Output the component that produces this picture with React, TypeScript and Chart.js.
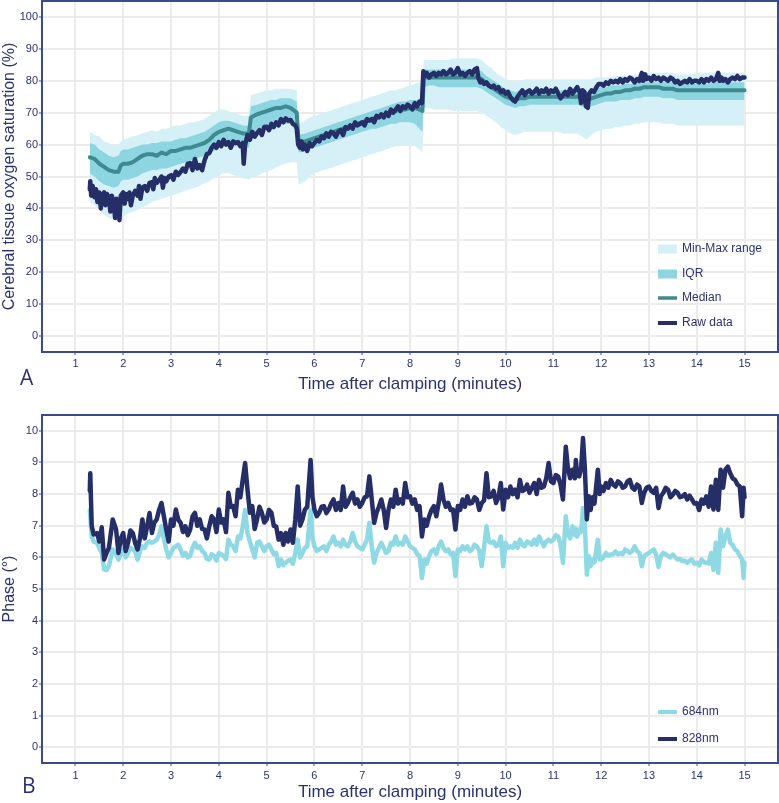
import React, { useEffect, useRef } from 'react';
import { Chart, registerables } from 'chart.js';

Chart.register(...registerables);

const FONT = "'Liberation Sans', Arial, Helvetica, sans-serif";
const TEXT = '#2a3370';
const NAVY = '#252e67';
const TEAL = '#3f8a91';
const IQR_FILL = '#8dd5e0';
const RANGE_FILL = '#d5f0f6';
const CYAN = '#8fd9e5';
const FRAME = '#3b4a8f';
const GRID = '#ebebeb';
const CLEAR = 'rgba(0,0,0,0)';

// ---------- Tick labels ----------
const xTicks = [1, 2, 3, 4, 5, 6, 7, 8, 9, 10, 11, 12, 13, 14, 15];
const satTicks = [0, 10, 20, 30, 40, 50, 60, 70, 80, 90, 100];
const phaseTicks = [0, 1, 2, 3, 4, 5, 6, 7, 8, 9, 10];

// ---------- Panel A: group statistics (time in minutes) ----------
const bandTimes = [
  1.3, 1.4, 1.5, 1.6, 1.7, 1.8, 1.9, 1.95, 2.0, 2.1,
  2.2, 2.3, 2.4, 2.5, 2.6, 2.7, 2.8, 2.9, 3.0, 3.1,
  3.2, 3.3, 3.4, 3.5, 3.6, 3.7, 3.8, 3.9, 4.0, 4.1,
  4.2, 4.3, 4.4, 4.5, 4.63, 4.67, 4.8, 4.9, 5.0, 5.1,
  5.2, 5.3, 5.4, 5.5, 5.63, 5.67, 5.8, 5.9, 6.0, 6.1,
  6.2, 6.3, 6.4, 6.5, 6.6, 6.7, 6.8, 6.9, 7.0, 7.1,
  7.2, 7.3, 7.4, 7.5, 7.6, 7.7, 7.8, 7.9, 8.0, 8.1,
  8.2, 8.26, 8.29, 8.4, 8.5, 8.6, 8.7, 8.8, 8.9, 9.0,
  9.1, 9.2, 9.3, 9.4, 9.5, 9.6, 9.7, 9.8, 9.9, 10.0,
  10.1, 10.2, 10.3, 10.4, 10.5, 10.6, 10.7, 10.8, 10.9, 11.0,
  11.1, 11.2, 11.3, 11.4, 11.5, 11.6, 11.7, 11.8, 11.9, 12.0,
  12.1, 12.2, 12.3, 12.4, 12.5, 12.6, 12.7, 12.8, 12.9, 13.0,
  13.1, 13.2, 13.3, 13.4, 13.5, 13.6, 13.7, 13.8, 13.9, 14.0,
  14.1, 14.2, 14.3, 14.4, 14.5, 14.6, 14.7, 14.8, 14.9, 15.0,
];
const satMin = [
  42, 41, 39.5, 38, 37, 36.5, 36, 37, 37.5, 38.5,
  39, 39.5, 40.5, 41, 42, 42.5, 43, 43.5, 44, 44.5,
  45, 45.5, 46, 46.5, 47, 48, 48.5, 49.5, 50.5, 51,
  51, 50.5, 50, 49.5, 49, 49.5, 50, 51, 51.5, 52,
  53, 53.5, 54, 54.5, 54.5, 47.5, 48.5, 50, 51, 51.5,
  52, 52.5, 53, 53.5, 54, 54.5, 55, 55.5, 56, 56.5,
  57, 57.5, 58, 58.5, 59, 59.5, 59.5, 60, 60, 59.5,
  58.5, 57.5, 71.5, 71.5, 71, 71, 71, 71, 70.5, 70.5,
  70.5, 70.5, 70.5, 70.5, 70, 69, 68, 67, 65.5, 64.5,
  63.5, 63, 63.5, 64, 64, 64, 64, 64, 64, 64,
  64, 63.5, 63.5, 63.5, 63.5, 62.5, 61.5, 63, 64, 64.5,
  65, 65, 65.5, 65.5, 66, 66, 66.5, 66.5, 67, 67,
  67, 67, 66.5, 66.5, 66.5, 66, 66, 66, 66, 66,
  66, 66, 66, 66, 66, 66, 66, 66, 66, 66,
];
const satQ1 = [
  51, 50, 48.5, 47.5, 47, 46.5, 47, 48.5, 49, 49,
  49.5, 50, 51, 51.5, 52, 52, 52.5, 52.5, 53, 53.5,
  54, 54.5, 55, 55.5, 56, 56.5, 57, 58, 59, 59.5,
  60, 59.5, 59.5, 59, 59, 63, 64, 64.5, 65, 65.5,
  66, 66.5, 66.5, 66.5, 66, 57.5, 58, 58.5, 59, 59.5,
  60, 60.5, 61, 61.5, 62, 62.5, 63, 63.5, 64, 64.5,
  65, 65, 65.5, 66, 66.5, 66.5, 67, 67, 67, 66.5,
  65, 64, 78, 78.5, 78.5, 78, 78, 78, 78, 78,
  78, 78, 78, 78, 77.5, 76.5, 75.5, 74.5, 73.5, 72.5,
  72, 71.5, 72, 72, 72.5, 72.5, 72.5, 72.5, 72.5, 72.5,
  72.5, 72.5, 72.5, 72.5, 72.5, 72, 71, 72, 72.5, 73,
  73.5, 73.5, 73.5, 74, 74, 74, 74.5, 74.5, 75, 75,
  75, 75, 74.5, 74.5, 74.5, 74, 74, 74, 74, 74,
  74, 74, 74, 74, 74, 74, 74, 74, 74, 74,
];
const satMedian = [
  56, 55.5, 54, 53, 52, 51.5, 51.5, 53.5, 54, 54,
  54.5, 55.5, 56.5, 57, 57, 56.5, 57.5, 57, 58, 58,
  58.5, 59, 59, 59.5, 60, 60.5, 61.5, 63, 64, 64.5,
  65, 64.5, 64, 63.5, 63.5, 68.5, 69.5, 70, 70.5, 71,
  71.5, 71.5, 72, 71.5, 70, 60.5, 61, 61.5, 62, 62.5,
  63, 63.5, 64, 64.5, 65, 65.5, 66, 66.5, 67, 67.5,
  68, 68.5, 69, 69.5, 70, 70.5, 71, 71, 71.5, 71.5,
  71, 70.5, 81, 81, 81, 81, 81, 81, 81, 81,
  81, 81, 81, 81, 80.5, 79, 78, 77, 76, 75,
  74.5, 74, 74.5, 74.5, 75, 75, 75, 75, 75, 75,
  75, 75, 75, 75, 75, 74.5, 74, 74.5, 75, 75.5,
  76, 76, 76.5, 76.5, 77, 77, 77.5, 77.5, 78, 78,
  78, 78, 77.5, 77.5, 77.5, 77, 77, 77, 77, 77,
  77, 77, 77, 77, 77, 77, 77, 77, 77, 77,
];
const satQ3 = [
  60.5, 60, 58.5, 57.5, 56.5, 56, 56.5, 58, 58.5, 58.5,
  59, 59.5, 60, 60, 60.5, 60.5, 61, 61, 61, 61.5,
  62, 62, 62.5, 63, 63.5, 64, 65, 66, 67, 67.5,
  67.5, 67, 66.5, 66, 66, 72, 72.5, 73, 73.5, 74,
  74, 74.5, 74.5, 74.5, 73.5, 63, 63.5, 64, 64.5, 65,
  65.5, 66, 66.5, 67, 67.5, 68, 68.5, 69, 69.5, 70,
  70.5, 71, 71.5, 72, 72.5, 73, 73.5, 73.5, 74, 74,
  74, 74, 83.5, 83.5, 83.5, 83.5, 83.5, 83.5, 83.5, 83.5,
  83.5, 83.5, 83.5, 83.5, 83, 81.5, 80.5, 79.5, 78.5, 77.5,
  77, 76.5, 77, 77, 77, 77, 77, 77, 77, 77,
  77, 77, 77, 77, 77, 76.5, 76.5, 77, 77.5, 78,
  78, 78.5, 78.5, 78.5, 79, 79, 79, 79.5, 79.5, 79.5,
  79.5, 79.5, 79.5, 79.5, 79.5, 79, 79, 79, 79, 79,
  79, 79, 79.5, 79.5, 79.5, 79.5, 79.5, 79.5, 79.5, 79.5,
];
const satMax = [
  64, 63, 62.5, 61, 60.5, 59.5, 60, 61, 61.5, 62,
  62.5, 63, 63.5, 64, 64.5, 64, 65, 65, 65.5, 66,
  66, 66.5, 67, 67, 67.5, 68, 69, 70, 71, 71,
  70.5, 70, 69.5, 69, 69, 75.5, 76, 76.5, 77, 77,
  77.5, 77.5, 77.5, 77.5, 77, 66.5, 67.5, 68.5, 69, 69.5,
  70, 70.5, 71, 71.5, 72, 72.5, 73, 73.5, 74, 74.5,
  75, 75.5, 76, 76.5, 77, 77, 77.5, 78, 78.5, 79,
  79.5, 79, 86.5, 86.5, 86.5, 86.5, 86.5, 86.5, 87, 87,
  87, 87, 87, 87, 86.5, 85, 84, 82.5, 81.5, 80.5,
  80, 79.5, 80, 80.5, 80.5, 80.5, 80.5, 80.5, 80.5, 80.5,
  80.5, 80.5, 80.5, 80.5, 80.5, 80.5, 80.5, 80.5, 81, 81,
  81, 81, 81.5, 81.5, 81.5, 81.5, 82, 82, 82.5, 82.5,
  82.5, 82.5, 82.5, 82.5, 82.5, 82, 82, 82, 82, 82.5,
  82.5, 82.5, 82.5, 82.5, 82.5, 82.5, 82.5, 82.5, 82.5, 82.5,
];

// ---------- Panel A: raw data of the single infant ----------
const rawTimes = [
  1.30, 1.31, 1.33, 1.36, 1.40, 1.43, 1.46, 1.50, 1.53, 1.56,
  1.60, 1.63, 1.66, 1.70, 1.73, 1.76, 1.80, 1.83, 1.86, 1.90,
  1.92, 1.95, 2.00, 2.03, 2.06, 2.10, 2.13, 2.16, 2.20, 2.25,
  2.30, 2.33, 2.36, 2.40, 2.45, 2.50, 2.55, 2.60, 2.63, 2.66,
  2.70, 2.75, 2.80, 2.83, 2.86, 2.90, 2.95, 3.00, 3.05, 3.10,
  3.15, 3.20, 3.25, 3.30, 3.35, 3.40, 3.45, 3.50, 3.55, 3.60,
  3.65, 3.70, 3.75, 3.80, 3.85, 3.90, 3.95, 4.00, 4.05, 4.10,
  4.15, 4.20, 4.25, 4.30, 4.35, 4.40, 4.45, 4.50, 4.52, 4.55,
  4.60, 4.65, 4.70, 4.75, 4.80, 4.85, 4.90, 4.95, 5.00, 5.05,
  5.10, 5.15, 5.20, 5.25, 5.30, 5.35, 5.40, 5.45, 5.50, 5.55,
  5.60, 5.63, 5.66, 5.70, 5.73, 5.76, 5.80, 5.85, 5.90, 5.95,
  6.00, 6.05, 6.10, 6.15, 6.20, 6.25, 6.30, 6.35, 6.40, 6.45,
  6.50, 6.55, 6.60, 6.65, 6.70, 6.75, 6.80, 6.85, 6.90, 6.95,
  7.00, 7.05, 7.10, 7.15, 7.20, 7.25, 7.30, 7.35, 7.40, 7.45,
  7.50, 7.55, 7.60, 7.65, 7.70, 7.75, 7.80, 7.85, 7.90, 7.95,
  8.00, 8.05, 8.10, 8.15, 8.20, 8.25, 8.28, 8.31, 8.35, 8.40,
  8.45, 8.50, 8.55, 8.60, 8.65, 8.70, 8.75, 8.80, 8.85, 8.90,
  8.95, 9.00, 9.05, 9.10, 9.15, 9.20, 9.25, 9.30, 9.35, 9.40,
  9.43, 9.47, 9.50, 9.55, 9.60, 9.65, 9.70, 9.75, 9.80, 9.85,
  9.90, 9.95, 10.00, 10.05, 10.10, 10.15, 10.20, 10.25, 10.30, 10.35,
  10.40, 10.45, 10.50, 10.55, 10.60, 10.65, 10.70, 10.75, 10.80, 10.85,
  10.90, 10.95, 11.00, 11.05, 11.10, 11.15, 11.20, 11.25, 11.30, 11.35,
  11.40, 11.45, 11.50, 11.55, 11.58, 11.61, 11.65, 11.68, 11.72, 11.75,
  11.80, 11.85, 11.90, 11.95, 12.00, 12.05, 12.10, 12.15, 12.20, 12.25,
  12.30, 12.35, 12.40, 12.45, 12.50, 12.55, 12.60, 12.65, 12.70, 12.75,
  12.80, 12.85, 12.88, 12.92, 12.95, 13.00, 13.05, 13.10, 13.15, 13.20,
  13.25, 13.30, 13.35, 13.40, 13.45, 13.50, 13.55, 13.60, 13.65, 13.70,
  13.75, 13.80, 13.85, 13.90, 13.95, 14.00, 14.05, 14.10, 14.15, 14.20,
  14.25, 14.30, 14.35, 14.40, 14.45, 14.48, 14.52, 14.55, 14.60, 14.65,
  14.70, 14.75, 14.80, 14.85, 14.90, 14.95, 15.00,
];
const rawSat = [
  46, 48.5, 44, 47, 43.5, 46, 42, 45, 40, 44,
  45, 41, 44.5, 43.5, 39, 44, 42, 37, 43, 41,
  36.3, 44, 45, 41.5, 44.5, 43, 45, 41, 44, 45.5,
  44, 47, 43, 46.5, 47, 45.5, 48, 48.2, 46, 49.5,
  48, 48.8, 50, 46.5, 49.5, 48.5, 50, 50.4, 49, 51.5,
  50.5, 51.4, 52.5, 51.5, 54, 54.2, 52, 55.5, 52.5, 53.6,
  52, 55, 57, 57.3, 59, 60, 59, 60.8, 59.5, 61.5,
  60, 60.8, 59, 61, 60.5, 60.8, 59.5, 60.5, 54, 60,
  63, 61.5, 64, 62.5, 63.6, 64.5, 63, 65.5, 65.6, 64.5,
  66.5, 65.5, 67, 66, 68, 67, 68.2, 67.5, 67.7, 66.5,
  66, 65, 60, 59, 61, 58.5, 60, 58, 60.5, 59.5,
  60.5, 61.5, 61, 62.5, 62, 63.5, 62.5, 64, 63.5, 62.5,
  64, 64.5, 63, 65.5, 65, 66, 65, 67, 66, 66.5,
  67, 66, 68, 67.5, 68, 67, 69, 68.5, 69.5, 68.5,
  70, 69, 71, 70, 71, 72, 70.5, 72, 71.5, 72.5,
  72, 71, 73, 72, 73.5, 73, 83, 81.5, 82.5, 81,
  82, 82.5, 81.5, 82.5, 82, 83, 82, 82.5, 83.5, 82,
  82.5, 84, 82, 82.5, 81.5, 82.5, 83, 82, 83.5, 84,
  81, 79.5, 80, 79, 79.5, 78.5, 78, 78.5, 77.5, 78,
  76.5, 77, 76, 76.5, 75, 74, 73.5, 75, 76, 77,
  75.5, 76.5, 77, 76, 76.5, 77.5, 76, 77, 76.5, 77.5,
  76, 77, 76.5, 77.5, 76, 74.5, 75.5, 76.5, 75.5, 77.5,
  76, 77, 78, 76.5, 73, 77, 76.5, 72, 71.5, 76,
  77, 76.5, 78, 79, 79, 78.5, 79.5, 79, 80, 79.5,
  80, 79.5, 80.5, 79.5, 80.5, 80, 81, 80.5, 79.5, 80.5,
  80, 82.5, 80, 82, 80.5, 81, 80, 81.5, 80.5, 81,
  80, 81, 80.5, 80, 81, 80.5, 79.5, 80, 79, 79.5,
  80, 79.5, 80.5, 79.5, 80, 80, 79.5, 80.5, 79.5, 80.5,
  80, 81, 80, 80.5, 82.5, 80, 81, 80, 80.5, 79.5,
  80.5, 81, 80.5, 81.5, 80.5, 81, 81,
];

// ---------- Panel B: phase ----------
const phaseTimes = [
  1.30, 1.31, 1.34, 1.38, 1.45, 1.50, 1.55, 1.60, 1.65, 1.70,
  1.78, 1.85, 1.90, 1.95, 2.00, 2.05, 2.10, 2.15, 2.20, 2.25,
  2.30, 2.35, 2.40, 2.45, 2.50, 2.55, 2.60, 2.65, 2.70, 2.75,
  2.80, 2.85, 2.90, 2.95, 3.00, 3.05, 3.10, 3.15, 3.20, 3.25,
  3.30, 3.35, 3.40, 3.45, 3.50, 3.55, 3.60, 3.65, 3.70, 3.75,
  3.80, 3.85, 3.90, 3.95, 4.00, 4.05, 4.10, 4.15, 4.20, 4.25,
  4.30, 4.35, 4.40, 4.45, 4.50, 4.55, 4.60, 4.65, 4.70, 4.75,
  4.80, 4.85, 4.90, 4.95, 5.00, 5.05, 5.10, 5.15, 5.20, 5.25,
  5.30, 5.35, 5.40, 5.45, 5.50, 5.55, 5.60, 5.65, 5.70, 5.75,
  5.80, 5.85, 5.92, 5.96, 6.00, 6.05, 6.10, 6.15, 6.20, 6.25,
  6.30, 6.35, 6.40, 6.45, 6.50, 6.55, 6.60, 6.65, 6.70, 6.75,
  6.80, 6.85, 6.90, 6.95, 7.00, 7.05, 7.10, 7.15, 7.20, 7.25,
  7.30, 7.35, 7.40, 7.45, 7.50, 7.55, 7.60, 7.65, 7.70, 7.75,
  7.80, 7.85, 7.90, 7.95, 8.00, 8.05, 8.10, 8.15, 8.20, 8.25,
  8.30, 8.35, 8.40, 8.45, 8.50, 8.55, 8.60, 8.65, 8.70, 8.75,
  8.80, 8.85, 8.90, 8.95, 9.00, 9.05, 9.10, 9.15, 9.20, 9.25,
  9.30, 9.35, 9.40, 9.45, 9.50, 9.55, 9.60, 9.65, 9.70, 9.75,
  9.80, 9.85, 9.90, 9.95, 10.00, 10.05, 10.10, 10.15, 10.20, 10.25,
  10.30, 10.35, 10.40, 10.45, 10.50, 10.55, 10.60, 10.65, 10.70, 10.75,
  10.80, 10.85, 10.90, 10.95, 11.00, 11.05, 11.10, 11.15, 11.20, 11.26,
  11.30, 11.35, 11.40, 11.45, 11.47, 11.50, 11.54, 11.58, 11.62, 11.66,
  11.70, 11.74, 11.78, 11.82, 11.86, 11.93, 11.97, 12.00, 12.05, 12.10,
  12.15, 12.20, 12.25, 12.30, 12.35, 12.40, 12.45, 12.50, 12.55, 12.60,
  12.65, 12.70, 12.75, 12.80, 12.85, 12.90, 12.95, 13.00, 13.05, 13.10,
  13.15, 13.20, 13.25, 13.30, 13.35, 13.40, 13.45, 13.50, 13.55, 13.60,
  13.65, 13.70, 13.75, 13.80, 13.85, 13.90, 13.95, 14.00, 14.05, 14.10,
  14.15, 14.20, 14.25, 14.30, 14.35, 14.40, 14.45, 14.50, 14.55, 14.60,
  14.65, 14.70, 14.75, 14.80, 14.85, 14.90, 14.95, 14.98, 15.00,
];
const phase828 = [
  8.1, 8.66, 7.0, 6.72, 6.77, 6.5, 6.95, 5.93, 6.14, 6.3,
  7.2, 6.88, 6.14, 6.6, 6.77, 6.2, 6.46, 6.85, 6.77, 6.45,
  6.25, 6.6, 7.2, 6.6, 6.98, 7.4, 6.77, 7.1, 7.2, 7.5,
  7.72, 7.3, 6.88, 6.5, 7.2, 7.0, 7.51, 7.2, 7.09, 6.8,
  6.98, 6.7, 6.88, 7.3, 7.41, 7.0, 7.2, 6.9, 6.88, 6.6,
  6.98, 7.3, 7.2, 6.8, 7.51, 7.1, 7.2, 6.8, 8.04, 7.6,
  7.62, 7.3, 8.14, 7.9, 8.45, 8.98, 8.14, 7.41, 7.62, 6.9,
  7.2, 7.6, 7.41, 7.1, 7.2, 7.5, 7.41, 7.0, 6.98, 6.56,
  6.77, 6.4, 6.77, 6.5, 6.88, 6.46, 7.2, 8.24, 7.0, 7.2,
  7.51, 7.6, 9.08, 7.9, 7.51, 7.3, 7.41, 7.6, 7.62, 7.4,
  7.51, 7.7, 7.83, 7.5, 7.72, 7.5, 8.24, 7.6, 7.72, 7.9,
  8.04, 7.7, 7.83, 7.6, 7.72, 7.9, 7.93, 8.56, 7.83, 7.09,
  7.41, 7.6, 7.83, 7.5, 6.93, 7.5, 7.83, 7.6, 8.14, 7.7,
  7.83, 7.7, 8.35, 7.9, 7.93, 7.7, 7.83, 7.5, 7.62, 6.66,
  7.2, 7.0, 7.3, 7.5, 7.62, 7.3, 7.72, 8.3, 7.83, 7.6,
  7.72, 7.5, 7.51, 6.88, 7.62, 7.5, 7.83, 7.6, 7.93, 7.7,
  7.72, 7.9, 7.83, 7.5, 7.72, 7.8, 8.66, 7.9, 7.93, 8.1,
  7.72, 7.9, 8.35, 7.51, 8.14, 7.9, 8.24, 8.0, 8.14, 7.9,
  8.45, 8.1, 8.14, 8.3, 8.04, 8.2, 8.35, 8.0, 8.45, 8.2,
  8.24, 8.5, 8.98, 8.4, 8.35, 8.6, 8.56, 8.3, 7.83, 9.5,
  8.87, 8.5, 8.77, 8.5, 9.08, 8.6, 8.56, 8.8, 9.77, 8.77,
  7.2, 7.93, 7.5, 7.9, 7.7, 8.77, 8.0, 8.24, 8.1, 8.35,
  8.2, 8.45, 8.3, 8.24, 8.4, 8.35, 8.2, 8.24, 8.4, 8.45,
  8.2, 8.14, 8.3, 8.24, 7.72, 8.04, 8.2, 8.24, 8.1, 8.04,
  8.2, 7.56, 7.93, 8.04, 8.2, 8.14, 7.9, 7.98, 8.1, 8.04,
  7.9, 7.93, 8.0, 7.83, 7.95, 7.83, 7.7, 7.72, 7.5, 7.83,
  7.7, 7.93, 7.6, 8.24, 7.51, 8.45, 7.5, 8.77, 8.2, 8.77,
  8.87, 8.66, 8.5, 8.45, 8.3, 8.24, 7.3, 8.2, 7.9,
];
const phase684 = [
  7.5, 7.3, 6.66, 6.5, 6.46, 6.3, 6.14, 5.62, 5.6, 5.72,
  6.25, 6.1, 5.93, 6.1, 6.25, 6.0, 6.14, 6.3, 6.25, 6.2,
  5.93, 6.2, 6.35, 6.3, 6.46, 6.5, 6.46, 6.5, 6.56, 6.7,
  6.98, 6.6, 6.25, 6.0, 6.14, 6.3, 6.35, 6.4, 6.25, 6.05,
  6.14, 6.0, 6.04, 6.3, 6.46, 6.3, 6.35, 6.2, 6.14, 5.95,
  5.93, 6.1, 6.04, 5.9, 6.14, 6.1, 6.04, 5.95, 6.56, 6.4,
  6.35, 6.2, 6.66, 6.6, 6.98, 7.5, 6.77, 6.5, 6.25, 6.0,
  6.46, 6.5, 6.35, 6.2, 6.35, 6.4, 6.25, 6.1, 6.14, 5.72,
  5.93, 5.75, 5.83, 5.9, 5.93, 5.8, 6.14, 6.56, 6.0, 6.14,
  6.3, 6.35, 7.5, 6.6, 6.35, 6.2, 6.25, 6.3, 6.35, 6.2,
  6.4, 6.5, 6.66, 6.4, 6.46, 6.35, 6.56, 6.4, 6.35, 6.5,
  6.77, 6.5, 6.35, 6.3, 6.25, 6.4, 6.56, 7.09, 6.35, 5.83,
  6.14, 6.3, 6.46, 6.3, 6.14, 6.2, 6.46, 6.4, 6.66, 6.4,
  6.46, 6.4, 6.66, 6.5, 6.35, 6.3, 6.25, 6.1, 6.04, 5.35,
  5.93, 5.8, 6.04, 6.2, 6.25, 6.1, 6.35, 6.5, 6.3, 6.2,
  6.25, 6.1, 6.14, 5.41, 6.25, 6.2, 6.35, 6.25, 6.35, 6.2,
  6.25, 6.4, 6.35, 6.2, 5.72, 6.3, 6.98, 6.5, 6.46, 6.5,
  6.35, 6.4, 6.66, 5.72, 6.46, 6.3, 6.35, 6.3, 6.46, 6.3,
  6.56, 6.4, 6.35, 6.5, 6.46, 6.4, 6.56, 6.4, 6.66, 6.5,
  6.35, 6.5, 6.56, 6.5, 6.56, 6.7, 6.66, 6.4, 5.83, 7.3,
  6.77, 6.6, 6.98, 6.7, 6.9, 6.66, 6.88, 6.8, 7.56, 6.98,
  5.45, 6.04, 5.72, 5.93, 5.85, 6.56, 5.93, 5.93, 6.0, 6.14,
  6.05, 6.09, 6.1, 6.19, 6.1, 6.14, 6.1, 6.25, 6.2, 6.14,
  6.2, 6.35, 6.2, 6.14, 5.72, 6.04, 6.1, 6.14, 6.2, 6.25,
  6.1, 5.7, 6.04, 6.14, 6.1, 6.04, 6.0, 6.09, 6.0, 5.93,
  5.95, 5.88, 5.9, 5.83, 5.9, 5.93, 5.8, 5.83, 5.75, 5.93,
  5.85, 5.83, 5.8, 6.14, 5.6, 6.46, 5.51, 6.88, 6.35, 6.66,
  6.88, 6.46, 6.4, 6.25, 6.2, 6.04, 5.93, 5.35, 5.83,
];

// ---------- helpers ----------
const pts = (t: number[], v: number[]) => t.map((x, i) => ({ x, y: v[i] }));

function framePlugin(color: string) {
  return {
    id: 'frameBox',
    afterDatasetsDraw(chart: any) {
      const { ctx, chartArea } = chart;
      ctx.save();
      ctx.strokeStyle = color;
      ctx.lineWidth = 2;
      ctx.strokeRect(chartArea.left, chartArea.top, chartArea.right - chartArea.left, chartArea.bottom - chartArea.top);
      ctx.restore();
    },
  };
}

type Entry = { dataset: number; kind: 'box' | 'line'; width?: number; dy: number };

function legendPlugin(entries: Entry[]) {
  return {
    id: 'panelLegend',
    afterDraw(chart: any) {
      const { ctx, chartArea } = chart;
      ctx.save();
      ctx.font = `12px ${FONT}`;
      ctx.textBaseline = 'middle';
      ctx.textAlign = 'left';
      const x0 = chartArea.right - 120;
      entries.forEach((e) => {
        const ds = chart.data.datasets[e.dataset];
        const y = chartArea.bottom + e.dy;
        if (e.kind === 'box') {
          ctx.fillStyle = ds.backgroundColor;
          ctx.fillRect(x0, y - 4.5, 19, 9);
        } else {
          ctx.strokeStyle = ds.borderColor;
          ctx.lineWidth = e.width || 3;
          ctx.beginPath();
          ctx.moveTo(x0, y);
          ctx.lineTo(x0 + 19, y);
          ctx.stroke();
        }
        ctx.fillStyle = TEXT;
        ctx.fillText(ds.label, x0 + 24, y);
      });
      ctx.restore();
    },
  };
}

function panelLabelPlugin(text: string, x: number, y: number) {
  return {
    id: 'panelLabel',
    afterDraw(chart: any) {
      const { ctx } = chart;
      ctx.save();
      ctx.font = `21px 'Open Sans', 'Noto Sans', sans-serif`;
      ctx.fillStyle = TEXT;
      ctx.textBaseline = 'alphabetic';
      ctx.fillText(text, x, y);
      ctx.restore();
    },
  };
}

function xScale(height: number, tickPad: number, titlePad: number) {
  return {
    type: 'linear',
    min: 0.3,
    max: 15.7,
    afterBuildTicks: (s: any) => {
      s.ticks = xTicks.map((v) => ({ value: v }));
    },
    afterFit: (s: any) => {
      s.height = height;
      s.paddingLeft = 0;
      s.paddingRight = 0;
    },
    grid: { color: GRID, lineWidth: 2, tickLength: 3, tickColor: FRAME, tickWidth: 1 },
    border: { display: false },
    ticks: { color: TEXT, font: { size: 11, family: FONT }, padding: tickPad, maxRotation: 0, autoSkip: false },
    title: {
      display: true,
      text: 'Time after clamping (minutes)',
      color: TEXT,
      font: { size: 17, family: FONT },
      padding: { top: 0, bottom: titlePad },
    },
  };
}

function yScale(min: number, max: number, ticks: number[], title: string) {
  return {
    type: 'linear',
    min,
    max,
    afterBuildTicks: (s: any) => {
      s.ticks = ticks.map((v) => ({ value: v }));
    },
    afterFit: (s: any) => {
      s.width = 42;
      s.paddingTop = 0;
      s.paddingBottom = 0;
    },
    grid: { color: GRID, lineWidth: 2, tickLength: 3, tickColor: FRAME, tickWidth: 1 },
    border: { display: false },
    ticks: { color: TEXT, font: { size: 11, family: FONT }, padding: 1 },
    title: {
      display: true,
      text: title,
      color: TEXT,
      font: { size: 16, family: FONT },
      padding: { top: 0, bottom: 0 },
    },
  };
}

const lineBase = { pointRadius: 0, pointHoverRadius: 0, tension: 0, borderJoinStyle: 'round', borderCapStyle: 'round' };

export default function App() {
  const topRef = useRef<HTMLCanvasElement>(null);
  const botRef = useRef<HTMLCanvasElement>(null);

  useEffect(() => {
    Chart.defaults.font.family = FONT;
    const top = new Chart(topRef.current as HTMLCanvasElement, {
      type: 'line',
      data: {
        datasets: [
          { ...lineBase, label: 'Raw data', data: pts(rawTimes, rawSat), borderColor: NAVY, borderWidth: 4.5, fill: false, order: 0 },
          { ...lineBase, label: 'Median', data: pts(bandTimes, satMedian), borderColor: TEAL, borderWidth: 4, fill: false, order: 1 },
          { ...lineBase, label: 'IQR', data: pts(bandTimes, satQ3), borderColor: CLEAR, borderWidth: 1, backgroundColor: IQR_FILL, fill: '+1', order: 2 },
          { ...lineBase, label: 'IQR lower', data: pts(bandTimes, satQ1), borderColor: CLEAR, borderWidth: 1, fill: false, order: 3 },
          { ...lineBase, label: 'Min-Max range', data: pts(bandTimes, satMax), borderColor: CLEAR, borderWidth: 1, backgroundColor: RANGE_FILL, fill: '+1', order: 4 },
          { ...lineBase, label: 'Min', data: pts(bandTimes, satMin), borderColor: CLEAR, borderWidth: 1, fill: false, order: 5 },
        ] as any,
      },
      options: {
        responsive: false,
        animation: false,
        events: [],
        layout: { padding: { top: 1, right: 1, left: 0, bottom: 0 } },
        plugins: { legend: { display: false }, tooltip: { enabled: false } },
        scales: {
          x: xScale(48, 2, 5),
          y: yScale(-5, 105, satTicks, 'Cerebral tissue oxygen saturation (%)'),
        } as any,
      },
      plugins: [
        framePlugin(FRAME),
        legendPlugin([
          { dataset: 4, kind: 'box', dy: -103 },
          { dataset: 2, kind: 'box', dy: -78 },
          { dataset: 1, kind: 'line', width: 3.5, dy: -54 },
          { dataset: 0, kind: 'line', width: 4, dy: -29 },
        ]),
        panelLabelPlugin('A', 20, 385),
      ],
    });

    const bot = new Chart(botRef.current as HTMLCanvasElement, {
      type: 'line',
      data: {
        datasets: [
          { ...lineBase, label: '684nm', data: pts(phaseTimes, phase684), borderColor: CYAN, borderWidth: 4.5, fill: false, order: 1 },
          { ...lineBase, label: '828nm', data: pts(phaseTimes, phase828), borderColor: NAVY, borderWidth: 4.5, fill: false, order: 0 },
        ] as any,
      },
      options: {
        responsive: false,
        animation: false,
        events: [],
        layout: { padding: { top: 15, right: 1, left: 0, bottom: 0 } },
        plugins: { legend: { display: false }, tooltip: { enabled: false } },
        scales: {
          x: xScale(40, 3, 0),
          y: yScale(-0.5, 10.5, phaseTicks, 'Phase (°)'),
        } as any,
      },
      plugins: [
        framePlugin(FRAME),
        legendPlugin([
          { dataset: 0, kind: 'line', width: 4, dy: -51 },
          { dataset: 1, kind: 'line', width: 4, dy: -24 },
        ]),
        panelLabelPlugin('B', 22, 393),
      ],
    });

    return () => {
      top.destroy();
      bot.destroy();
    };
  }, []);

  return (
    <div style={{ position: 'absolute', left: 0, top: 0, width: 779, height: 803, background: '#ffffff' }}>
      <canvas ref={topRef} width={779} height={400} style={{ position: 'absolute', left: 0, top: 0, display: 'block' }} />
      <canvas ref={botRef} width={779} height={403} style={{ position: 'absolute', left: 0, top: 400, display: 'block' }} />
    </div>
  );
}
